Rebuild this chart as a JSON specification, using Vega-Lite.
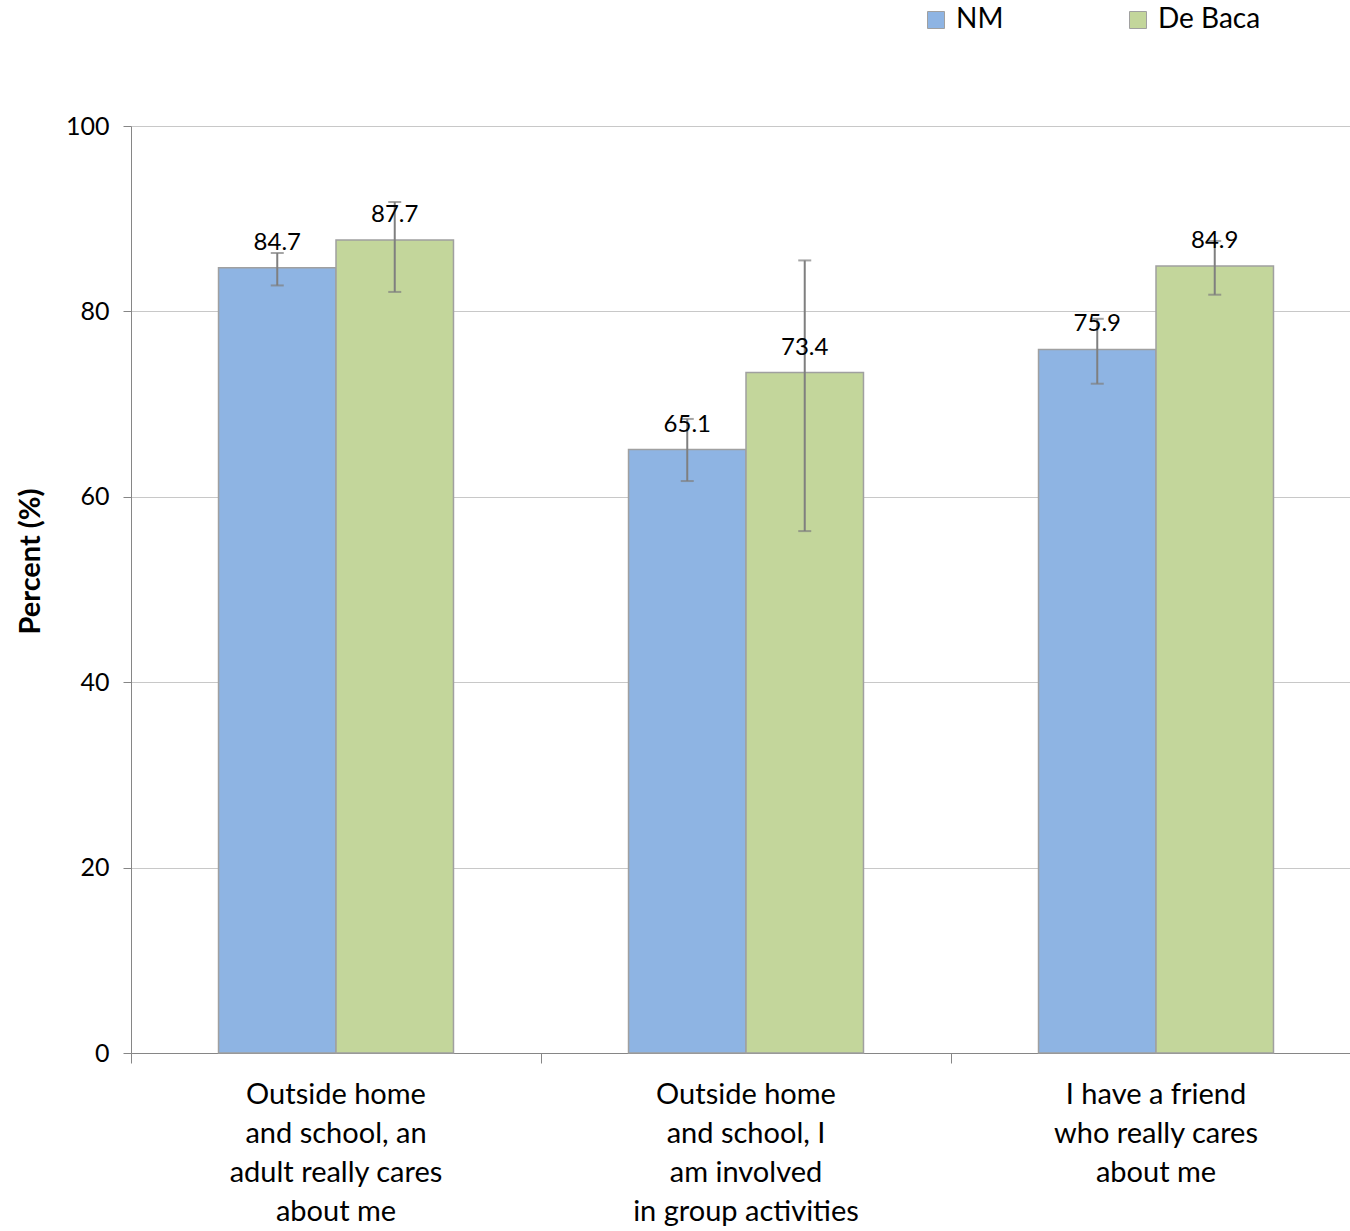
{
  "$schema": "https://vega.github.io/schema/vega-lite/v6.json",
  "autosize": "none",
  "width": 1219,
  "height": 927,
  "padding": {"left": 131, "top": 126, "right": 0, "bottom": 178},
  "background": "white",
  "config": {
    "font": "Lato",
    "view": {"stroke": null},
    "axis": {"labelFont": "Lato", "titleFont": "Lato", "labelColor": "black", "titleColor": "black"}
  },
  "data": {
    "values": [
      {"cat": "Outside home|and school, an|adult really cares|about me", "series": "NM", "value": 84.7, "lo": 82.8, "hi": 86.3},
      {"cat": "Outside home|and school, an|adult really cares|about me", "series": "De Baca", "value": 87.7, "lo": 82.1, "hi": 91.8},
      {"cat": "Outside home|and school, I|am involved|in group activities", "series": "NM", "value": 65.1, "lo": 61.7, "hi": 68.4},
      {"cat": "Outside home|and school, I|am involved|in group activities", "series": "De Baca", "value": 73.4, "lo": 56.3, "hi": 85.5},
      {"cat": "I have a friend|who really cares|about me", "series": "NM", "value": 75.9, "lo": 72.2, "hi": 79.2},
      {"cat": "I have a friend|who really cares|about me", "series": "De Baca", "value": 84.9, "lo": 81.8, "hi": 87.6}
    ]
  },
  "encoding": {
    "x": {
      "field": "cat", "type": "nominal", "sort": null,
      "scale": {"range": [0, 1230], "paddingInner": 0, "paddingOuter": 0},
      "axis": {
        "title": null, "labelAngle": 0, "bandPosition": 0,
        "labelExpr": "split(datum.label, '|')",
        "labelFontSize": 29, "labelLineHeight": 39, "labelPadding": 17,
        "labelBaseline": "top", "labelLimit": 0,
        "tickSize": 10, "tickColor": "#868686", "domainColor": "#868686",
        "grid": false
      }
    },
    "xOffset": {
      "field": "series", "type": "nominal", "sort": ["NM", "De Baca"],
      "scale": {"paddingInner": 0, "paddingOuter": 0.745}
    }
  },
  "layer": [
    {
      "mark": {"type": "bar", "stroke": "#a0a0a0", "strokeWidth": 1.5},
      "encoding": {
        "y": {
          "field": "value", "type": "quantitative",
          "scale": {"domain": [0, 100]},
          "axis": {
            "title": "Percent (%)", "titleFontSize": 29, "titleFontWeight": "bold", "titlePadding": 20, "titleY": 435,
            "values": [0, 20, 40, 60, 80, 100], "labelFontSize": 25, "labelPadding": 14,
            "tickSize": 8, "tickColor": "#868686", "domainColor": "#868686",
            "gridColor": "#c8c8c8", "gridWidth": 1.2
          }
        },
        "color": {
          "field": "series", "type": "nominal",
          "scale": {"domain": ["NM", "De Baca"], "range": ["#8EB4E3", "#C3D69B"]},
          "legend": {
            "title": null, "orient": "none", "direction": "horizontal",
            "legendX": 791, "legendY": -120,
            "symbolType": "square", "symbolSize": 289, "symbolStrokeColor": "#a0a0a0", "symbolStrokeWidth": 1,
            "labelFontSize": 28, "labelFont": "Lato", "labelOffset": 6, "columnPadding": 120
          }
        }
      }
    },
    {
      "mark": {"type": "rule", "color": "#7f7f7f", "strokeWidth": 2},
      "encoding": {
        "y": {"field": "lo", "type": "quantitative"},
        "y2": {"field": "hi"}
      }
    },
    {
      "mark": {"type": "tick", "color": "#7f7f7f", "thickness": 2, "size": 13, "orient": "horizontal"},
      "encoding": {"y": {"field": "lo", "type": "quantitative"}}
    },
    {
      "mark": {"type": "tick", "color": "#7f7f7f", "thickness": 2, "size": 13, "orient": "horizontal"},
      "encoding": {"y": {"field": "hi", "type": "quantitative"}}
    },
    {
      "mark": {"type": "text", "baseline": "alphabetic", "dy": -18, "fontSize": 24, "font": "Lato", "color": "black"},
      "encoding": {
        "y": {"field": "value", "type": "quantitative"},
        "text": {"field": "value", "type": "quantitative", "format": ".1f"}
      }
    }
  ]
}
